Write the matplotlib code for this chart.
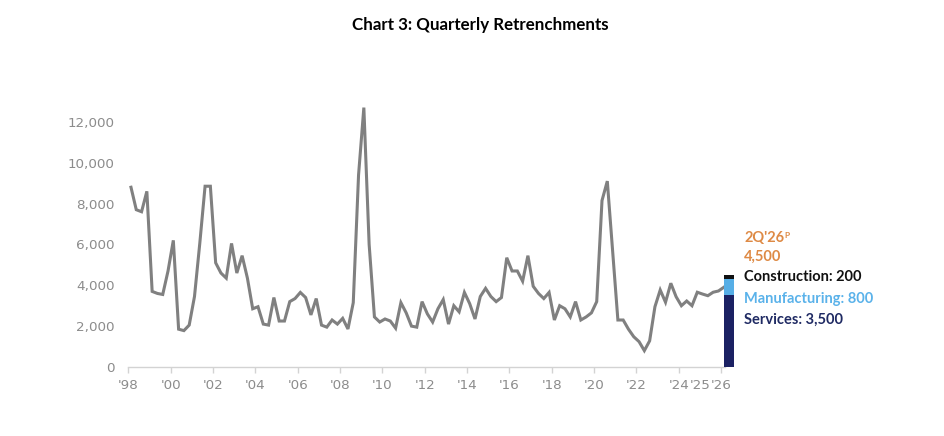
import numpy as np
import matplotlib as mpl
mpl.use('Agg')
import matplotlib.pyplot as plt


# quarterly retrenchments, 1Q98 .. 1Q26 (one row per year)
start_year = 1998
retrenchments = [
    8800, 7700, 7600, 8600,    # 1998
    3700, 3600, 3550, 4700,    # 1999
    6200, 1850, 1780, 2050,    # 2000
    3450, 6050, 8850, 8850,    # 2001
    5100, 4600, 4350, 6050,    # 2002
    4600, 5450, 4350, 2850,    # 2003
    2950, 2100, 2050, 3400,    # 2004
    2250, 2250, 3200, 3350,    # 2005
    3650, 3400, 2550, 3350,    # 2006
    2050, 1950, 2300, 2100,    # 2007
    2380, 1860, 3150, 9400,    # 2008
    12700, 6000, 2450, 2200,   # 2009
    2350, 2250, 1900, 3150,    # 2010
    2650, 2000, 1950, 3200,    # 2011
    2600, 2200, 2850, 3300,    # 2012
    2100, 3000, 2700, 3650,    # 2013
    3100, 2350, 3450, 3850,    # 2014
    3450, 3200, 3400, 5350,    # 2015
    4700, 4700, 4200, 5450,    # 2016
    3950, 3600, 3350, 3650,    # 2017
    2300, 3000, 2850, 2450,    # 2018
    3200, 2300, 2450, 2650,    # 2019
    3200, 8150, 9100, 5700,    # 2020
    2300, 2300, 1850, 1480,    # 2021
    1240, 800, 1280, 2950,     # 2022
    3770, 3170, 4100, 3440,    # 2023
    3000, 3230, 3000, 3660,    # 2024
    3570, 3490, 3660, 3720,    # 2025
    3900,                      # 2026
]

# 2Q'26 projection by sector
proj_label = "2Q'26"
proj_total = 4500
sectors = ['Services', 'Manufacturing', 'Construction']
sector_values = [3500, 800, 200]
sector_colors = ['#1B2163', '#56AEE6', '#111111']

tick_years = [1998, 2000, 2002, 2004, 2006, 2008, 2010, 2012, 2014,
              2016, 2018, 2020, 2022, 2024, 2025, 2026]
tick_labels = ["'98", "'00", "'02", "'04", "'06", "'08", "'10", "'12", "'14",
               "'16", "'18", "'20", "'22", "'24", "'25", "'26"]

GRAY_TXT = '#8C8C8C'
ORANGE = '#DE8A45'


def main():
    fig = plt.figure(figsize=(9.45, 4.36), dpi=100)
    ax = fig.add_axes([0.1358, 0.1583, 0.6407, 0.609])

    t = start_year + (np.arange(len(retrenchments)) + 0.5) / 4
    ax.plot(t, retrenchments, color='#808080', lw=2.2, solid_joinstyle='miter', zorder=3)

    # stacked projection bar
    t_proj = start_year + (len(retrenchments) + 0.5) / 4
    bottom = 0
    for name, val, col in zip(sectors, sector_values, sector_colors):
        ax.bar(t_proj, val, width=0.46, bottom=bottom, color=col, zorder=4)
        bottom += val

    ax.set_xlim(1998, 2026.6)
    ax.set_ylim(0, 13000)
    ax.set_yticks(np.arange(0, 12001, 2000))
    ax.set_yticklabels([f'{v:,}' for v in range(0, 12001, 2000)])
    ax.set_xticks(tick_years)
    ax.set_xticklabels(tick_labels)

    for s in ['top', 'right', 'left']:
        ax.spines[s].set_visible(False)
    ax.spines['bottom'].set_color('#D3D3D3')
    ax.spines['bottom'].set_linewidth(1.0)
    ax.spines['bottom'].set_bounds(1998, 2026.2)

    ax.tick_params(axis='y', length=0, pad=10, labelsize=9.7, labelcolor=GRAY_TXT)
    ax.tick_params(axis='x', direction='out', length=4, width=1.0, color='#D3D3D3',
                   pad=5, labelsize=9.7, labelcolor=GRAY_TXT)
    # no tick mark for '25
    ax.xaxis.get_major_ticks()[tick_years.index(2025)].tick1line.set_visible(False)

    # projection annotations
    tx = 2027.1
    fnt = dict(family=['Lato', 'DejaVu Sans'], fontweight='bold', fontsize=10.5,
               va='center', ha='left')
    lab = ax.text(tx, 6320, proj_label, color=ORANGE, **fnt)
    ax.annotate('P', xy=(1, 0.95), xycoords=lab, va='top', ha='left', color=ORANGE,
                fontsize=6, fontweight='bold', family=['Lato', 'DejaVu Sans'])
    ax.text(tx, 5400, f'{proj_total:,}', color=ORANGE, **fnt)
    ax.text(tx, 4410, f'{sectors[2]}: {sector_values[2]:,}', color='#111111', **fnt)
    ax.text(tx, 3340, f'{sectors[1]}: {sector_values[1]:,}', color='#5AB2EA', **fnt)
    ax.text(tx, 2300, f'{sectors[0]}: {sector_values[0]:,}', color='#1F2A63', **fnt)

    fig.text(0.508, 0.942, 'Chart 3: Quarterly Retrenchments', ha='center', va='center',
             fontsize=12.2, fontweight='bold', family=['Lato', 'DejaVu Sans'])

    fig.savefig('out.png', dpi=100, facecolor='white')


if __name__ == '__main__':
    main()
